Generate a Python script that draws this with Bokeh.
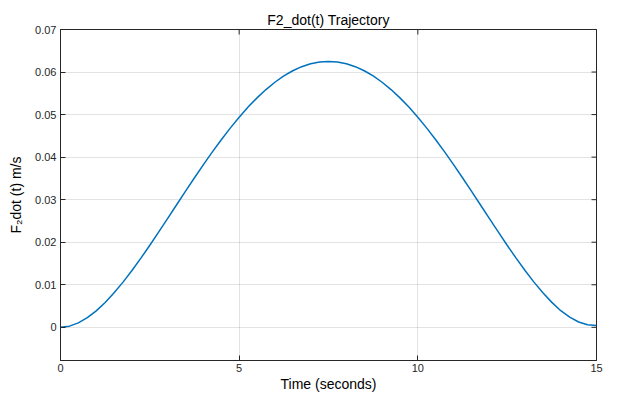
import math
from bokeh.plotting import figure
from bokeh.models import Range1d, FixedTicker
from bokeh.embed import file_html
from bokeh.resources import INLINE

# Data (time in s, velocity in m/s)
t = [0.0, 0.25, 0.5, 0.75, 1.0, 1.25, 1.5, 1.75, 2.0, 2.25, 2.5, 2.75, 3.0, 3.25, 3.5, 3.75,
     4.0, 4.25, 4.5, 4.75, 5.0, 5.25, 5.5, 5.75, 6.0, 6.25, 6.5, 6.75, 7.0, 7.25, 7.5,
     7.75, 8.0, 8.25, 8.5, 8.75, 9.0, 9.25, 9.5, 9.75, 10.0, 10.25, 10.5, 10.75, 11.0,
     11.25, 11.5, 11.75, 12.0, 12.25, 12.5, 12.75, 13.0, 13.25, 13.5, 13.75, 14.0, 14.25,
     14.5, 14.75, 15.0]
f2dot = [0.0, 0.00027, 0.00104, 0.00226, 0.00387, 0.00584, 0.0081, 0.01062, 0.01335,
         0.01626, 0.01929, 0.02242, 0.0256, 0.02881, 0.0320, 0.03516, 0.03824, 0.04123,
         0.0441, 0.04682, 0.04938, 0.05176, 0.05393, 0.05588, 0.0576, 0.05908, 0.0603,
         0.06126, 0.06195, 0.06236, 0.0625,
         0.06236, 0.06195, 0.06126, 0.0603, 0.05908, 0.0576, 0.05588, 0.05393, 0.05176,
         0.04938, 0.04682, 0.0441, 0.04123, 0.03824, 0.03516, 0.0320, 0.02881, 0.0256,
         0.02242, 0.01929, 0.01626, 0.01335, 0.01062, 0.0081, 0.00586, 0.0039, 0.0024,
         0.00125, 0.0006, 0.0004]

x_ticks = [0, 5, 10, 15]
x_tick_labels = ["0", "5", "10", "15"]
y_ticks = [0, 0.01, 0.02, 0.03, 0.04, 0.05, 0.06, 0.07]
y_tick_labels = ["0", "0.01", "0.02", "0.03", "0.04", "0.05", "0.06", "0.07"]

x_min, x_max = 0, 15
y_min, y_max = -0.0078, 0.07

title_text = "F2_dot(t) Trajectory"
x_label = "Time (seconds)"
y_label = "F\u2082dot (t) m/s"

FONT = "Liberation Sans"
DARK = "#262626"

p = figure(width=621, height=396, output_backend="svg", toolbar_location=None,
           x_range=Range1d(x_min, x_max), y_range=Range1d(y_min, y_max),
           min_border_left=60, min_border_right=25, min_border_top=29, min_border_bottom=36)

p.line(t, f2dot, line_color="#0072BD", line_width=1.5)

p.title.text = title_text
p.title.align = "center"
p.title.text_font = FONT
p.title.text_font_size = "14px"
p.title.text_font_style = "normal"
p.title.text_color = "#000000"
p.title.standoff = 3

p.outline_line_color = DARK
p.outline_line_width = 1

for ax in (p.xaxis[0], p.yaxis[0]):
    ax.axis_line_color = DARK
    ax.major_tick_line_color = DARK
    ax.major_tick_in = 5
    ax.major_tick_out = 0
    ax.minor_tick_line_color = None
    ax.major_label_text_font = FONT
    ax.major_label_text_font_size = "11px"
    ax.major_label_text_color = DARK
    ax.axis_label_text_font = FONT
    ax.axis_label_text_font_size = "14px"
    ax.axis_label_text_font_style = "normal"
    ax.axis_label_text_color = "#000000"

p.xaxis[0].ticker = FixedTicker(ticks=x_ticks)
p.xaxis[0].major_label_overrides = {k: v for k, v in zip(x_ticks, x_tick_labels)}
p.xaxis[0].axis_label = x_label
p.xaxis[0].major_label_standoff = 3
p.xaxis[0].axis_label_standoff = 1

p.yaxis[0].ticker = FixedTicker(ticks=y_ticks)
p.yaxis[0].major_label_overrides = {k: v for k, v in zip(y_ticks, y_tick_labels)}
p.yaxis[0].axis_label = y_label
p.yaxis[0].major_label_standoff = 4
p.yaxis[0].axis_label_standoff = 8

# inward ticks on the top and right edges of the box (half of each dash is clipped by the frame)
p.scatter(x=x_ticks, y=[y_max] * len(x_ticks), marker="dash", size=10, angle=math.pi / 2,
          line_color=DARK, line_width=1)
p.scatter(x=[x_max] * len(y_ticks), y=y_ticks, marker="dash", size=10,
          line_color=DARK, line_width=1)

p.xgrid.ticker = FixedTicker(ticks=x_ticks)
p.ygrid.ticker = FixedTicker(ticks=y_ticks)
for g in (p.xgrid[0], p.ygrid[0]):
    g.grid_line_color = DARK
    g.grid_line_alpha = 0.13

p.background_fill_color = "white"
p.border_fill_color = "white"

open("out.html", "w").write(file_html(p, INLINE))
